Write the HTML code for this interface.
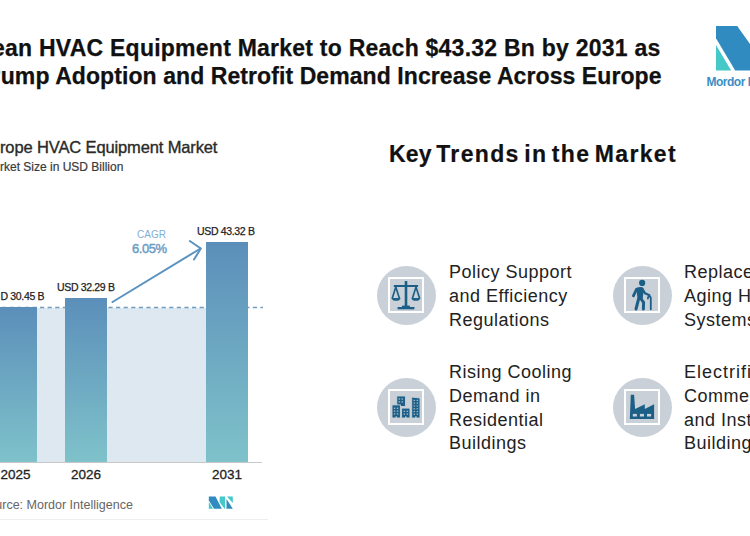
<!DOCTYPE html>
<html><head><meta charset="utf-8">
<style>
html,body{margin:0;padding:0;background:#fff;}
body{width:750px;height:536px;position:relative;overflow:hidden;font-family:"Liberation Sans",sans-serif;}
.a{position:absolute;white-space:nowrap;line-height:1;}
.title{font-weight:bold;font-size:23px;color:#111;-webkit-text-stroke:0.25px #111;}
.ct{font-size:16.5px;color:#2a2a2a;letter-spacing:-0.13px;-webkit-text-stroke:0.35px #2a2a2a;}
.cs{font-size:12px;color:#3a3a3a;-webkit-text-stroke:0.2px #3a3a3a;}
.lbl{font-size:10.5px;color:#222;letter-spacing:-0.34px;-webkit-text-stroke:0.25px #222;}
.yr{font-size:13.5px;color:#222;-webkit-text-stroke:0.3px #222;}
.kt{font-weight:bold;font-size:23px;color:#111;letter-spacing:1.35px;word-spacing:-3.3px;-webkit-text-stroke:0.2px #111;}
.it{font-size:18px;color:#222;line-height:23.8px;letter-spacing:0.5px;}
.circ{position:absolute;width:59px;height:59px;border-radius:50%;background:#c9d0d8;}
.sq{position:absolute;width:32px;height:32px;border:2px solid #fff;background:#c9d0d8;}
</style></head><body>

<div class="a title" id="t1" style="left:-8px;top:37.3px;letter-spacing:0.24px;">ean HVAC Equipment Market to Reach $43.32 Bn by 2031 as</div>
<div class="a title" id="t2" style="left:-14.7px;top:65px;letter-spacing:0.08px;">Pump Adoption and Retrofit Demand Increase Across Europe</div>

<!-- top right logo -->
<svg class="a" style="left:700px;top:20px" width="50" height="70" viewBox="700 20 50 70">
  <polygon points="716,26 737.2,26 750,44 750,70.4 735.2,70.4 716,38.2" fill="#2f8bc0"/>
  <polygon points="716,44.9 716,70.4 731.2,70.4" fill="#45c8c8"/>
</svg>
<div class="a" id="mi" style="left:706.5px;top:76px;font-size:12px;font-weight:bold;color:#3b8ec4;letter-spacing:-0.5px;">Mordor Intelligence</div>

<!-- chart -->
<div class="a ct" id="ct" style="left:0;top:139px;">rope HVAC Equipment Market</div>
<div class="a cs" id="cs" style="left:0;top:161px;">rket Size in USD Billion</div>

<svg class="a" style="left:0;top:0" width="750" height="536">
  <defs>
    <linearGradient id="g1" x1="0" y1="0" x2="0" y2="1">
      <stop offset="0" stop-color="#5b8fba"/>
      <stop offset="1" stop-color="#7fc2ca"/>
    </linearGradient>
  </defs>
  <rect x="0" y="308" width="206" height="154" fill="#dee8f0"/>
  <line x1="0" y1="307.5" x2="263" y2="307.5" stroke="#6f9cc0" stroke-width="1.6" stroke-dasharray="4.2 3.4" stroke-dashoffset="-2"/>
  <rect x="-10" y="307" width="47" height="155" fill="url(#g1)"/>
  <rect x="65" y="298" width="42" height="164" fill="url(#g1)"/>
  <rect x="206" y="242" width="42" height="220" fill="url(#g1)"/>
  <line x1="0" y1="462.5" x2="262" y2="462.5" stroke="#c8c8c8" stroke-width="1"/>
  <line x1="112.5" y1="302" x2="200.5" y2="248.5" stroke="#5b93bf" stroke-width="2" stroke-linecap="round"/>
  <polyline points="189.8,241 200.8,248.5 194,259.5" fill="none" stroke="#5b93bf" stroke-width="2" stroke-linecap="round" stroke-linejoin="round"/>
  <line x1="0" y1="519.5" x2="268" y2="519.5" stroke="#eeeeee" stroke-width="1"/>
  <!-- small logo -->
  <g>
    <polygon points="208.8,496.5 215.5,496.5 221.8,508.7 214,508.7 208.8,500.5" fill="#2f8bc0"/>
    <polygon points="208.8,502 213,508.7 208.8,508.7" fill="#45c8c8"/>
    <polygon points="219.8,496.5 225.1,496.5 225.1,508.7 224.5,508.7 219.5,502" fill="#45c8c8"/>
    <polygon points="227,496.5 232.8,496.5 232.8,503" fill="#45c8c8"/>
    <polygon points="226.5,499 232.8,508.7 226.5,508.7" fill="#2f8bc0"/>
  </g>
</svg>

<div class="a lbl" id="l1" style="left:0.5px;top:290.5px;">D 30.45 B</div>
<div class="a lbl" id="l2" style="left:57px;top:281.5px;">USD 32.29 B</div>
<div class="a lbl" id="l3" style="left:197px;top:225.5px;">USD 43.32 B</div>
<div class="a" id="cagr" style="left:137px;top:229.5px;font-size:10px;color:#7fb0d4;">CAGR</div>
<div class="a" id="pct" style="left:132px;top:242px;font-size:13px;color:#6a9cc4;letter-spacing:-0.45px;-webkit-text-stroke:0.45px #6a9cc4;">6.05%</div>

<div class="a yr" id="y1" style="left:0.5px;top:468px;">2025</div>
<div class="a yr" id="y2" style="left:71px;top:468px;">2026</div>
<div class="a yr" id="y3" style="left:212px;top:468px;">2031</div>
<div class="a" id="src" style="left:-20px;top:499px;font-size:12.5px;color:#666;">Source: Mordor Intelligence</div>

<!-- right panel -->
<div class="a kt" id="kt" style="left:389px;top:143px;"><span style="letter-spacing:0.2px">Key</span> Trends in the Market</div>

<div class="circ" style="left:377px;top:266px;"></div>
<div class="sq" style="left:388px;top:277px;"></div>
<div class="circ" style="left:613px;top:266px;"></div>
<div class="sq" style="left:624px;top:277px;"></div>
<div class="circ" style="left:377px;top:378px;"></div>
<div class="sq" style="left:388px;top:389px;"></div>
<div class="circ" style="left:613px;top:378px;"></div>
<div class="sq" style="left:624px;top:389px;"></div>


<!-- icons -->
<svg class="a" style="left:386px;top:275px" width="40" height="40" viewBox="0 0 40 40">
  <g fill="#1b5f87" stroke="none">
    <rect x="18.7" y="6" width="2.6" height="25.5" rx="0.6"/>
    <rect x="7.8" y="10" width="24.3" height="2.1" rx="0.5"/>
    <path d="M5.6 22.9 L14.6 22.9 Q14 25.8 10.1 25.8 Q6.2 25.8 5.6 22.9 Z"/>
    <path d="M25.4 22.9 L34.3 22.9 Q33.7 25.8 29.85 25.8 Q26 25.8 25.4 22.9 Z"/>
    <rect x="11.6" y="32" width="16.8" height="2.3"/>
    <rect x="16" y="30.6" width="7.9" height="2"/>
  </g>
  <g fill="none" stroke="#1b5f87" stroke-width="1.65" stroke-linecap="round">
    <path d="M9.8 12 L6.3 23 M9.8 12 L13.3 23"/>
    <path d="M30 12 L26.5 23 M30 12 L33.5 23"/>
  </g>
</svg>
<svg class="a" style="left:622px;top:275px" width="40" height="40" viewBox="0 0 40 40">
  <g fill="#1b5f87">
    <circle cx="20.15" cy="7.9" r="3.1"/>
    <path d="M15.2 12.4 Q17.8 11.6 20.6 12.3 Q21.9 13 21.6 15.5 L20.6 24.8 L15.6 24.8 L14.6 15.5 Q14.4 13 15.2 12.4 Z"/>
  </g>
  <g fill="none" stroke="#1b5f87" stroke-linecap="round" stroke-linejoin="round">
    <path d="M14.6 14.2 L11.4 20.8" stroke-width="2.8"/>
    <path d="M20.5 14.2 L23 18.3 L27.4 20.3" stroke-width="2.3"/>
    <path d="M16.6 24 L14 34" stroke-width="3"/>
    <path d="M19.2 24.2 L21.6 27.4 L21.4 34" stroke-width="3"/>
    <path d="M25.9 23.5 Q25.9 21.4 27.4 21.4 Q28.8 21.5 28.8 23 L28.8 34.3" stroke-width="1.8"/>
  </g>
</svg>
<svg class="a" style="left:386px;top:387px" width="40" height="40" viewBox="0 0 40 40">
  <g fill="#1b5f87" stroke="#c9d0d8" stroke-width="0.9">
    <rect x="10.8" y="9" width="8.6" height="10.5"/>
    <rect x="6" y="17.9" width="8.4" height="13.1"/>
    <rect x="15.6" y="21.1" width="8.4" height="9.9"/>
    <path d="M25.7 10 L34 11 L34 31 L25.7 31 Z"/>
  </g>
  <g fill="#9fb3c3">
    <rect x="12.6" y="11.3" width="1.5" height="1.4"/><rect x="15.5" y="11.3" width="1.5" height="1.4"/>
    <rect x="12.6" y="14.2" width="1.5" height="1.4"/><rect x="15.5" y="14.2" width="1.5" height="1.4"/>
    <rect x="7.8" y="20.6" width="1.5" height="1.4"/><rect x="10.8" y="20.6" width="1.5" height="1.4"/>
    <rect x="7.8" y="23.4" width="1.5" height="1.4"/><rect x="10.8" y="23.4" width="1.5" height="1.4"/>
    <rect x="7.8" y="26.2" width="1.5" height="1.4"/><rect x="10.8" y="26.2" width="1.5" height="1.4"/>
    <rect x="17.6" y="23.6" width="1.5" height="1.4"/><rect x="20.6" y="23.6" width="1.5" height="1.4"/>
    <rect x="17.6" y="26.4" width="1.5" height="1.4"/><rect x="20.6" y="26.4" width="1.5" height="1.4"/>
    <rect x="27.6" y="12.8" width="1.5" height="1.3"/><rect x="30.6" y="12.8" width="1.5" height="1.3"/>
    <rect x="27.6" y="15.5" width="1.5" height="1.3"/><rect x="30.6" y="15.5" width="1.5" height="1.3"/>
    <rect x="27.6" y="18.3" width="1.5" height="1.3"/><rect x="30.6" y="18.3" width="1.5" height="1.3"/>
    <rect x="27.6" y="21.1" width="1.5" height="1.3"/><rect x="30.6" y="21.1" width="1.5" height="1.3"/>
    <rect x="27.6" y="23.9" width="1.5" height="1.3"/><rect x="30.6" y="23.9" width="1.5" height="1.3"/>
    <rect x="27.6" y="26.6" width="1.5" height="1.3"/><rect x="30.6" y="26.6" width="1.5" height="1.3"/>
  </g>
  <g fill="#c9d0d8">
    <rect x="9.6" y="29.4" width="1.4" height="1.6"/>
    <rect x="19.1" y="29.4" width="1.4" height="1.6"/>
    <rect x="29.2" y="29.4" width="1.4" height="1.6"/>
  </g>
</svg>
<svg class="a" style="left:622px;top:387px" width="40" height="40" viewBox="0 0 40 40">
  <path fill="#1b5f87" d="M8.8 7.8 L12.1 7.8 L13.1 22 L22.8 17.2 L22.8 22 L32.1 17.2 L32.1 32.1 L7.8 32.1 Z"/>
  <g fill="#c9d0d8">
    <rect x="10.8" y="26.9" width="4.1" height="2.6"/>
    <rect x="17.9" y="26.9" width="4.1" height="2.6"/>
    <rect x="25" y="26.9" width="4.1" height="2.6"/>
  </g>
</svg>

<div class="a it" id="i1" style="left:449px;top:261px;">Policy Support<br>and Efficiency<br>Regulations</div>
<div class="a it" id="i2" style="left:684px;top:261px;">Replacement of<br>Aging HVAC<br>Systems</div>
<div class="a it" id="i3" style="left:449px;top:361px;">Rising Cooling<br>Demand in<br>Residential<br>Buildings</div>
<div class="a it" id="i4" style="left:684px;top:361px;"><span style="letter-spacing:1px">Electrification of</span><br>Commercial<br>and Institutional<br>Buildings</div>

</body></html>
